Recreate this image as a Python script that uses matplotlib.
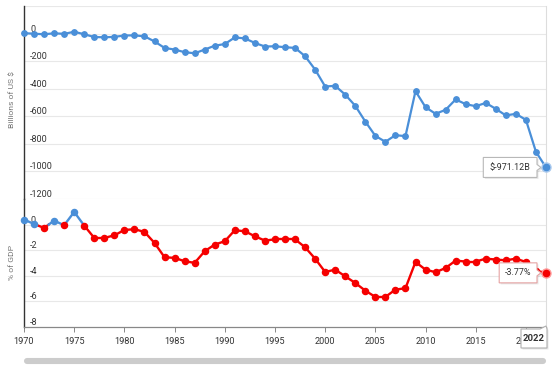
import matplotlib
matplotlib.use("Agg")
import matplotlib.pyplot as plt
import matplotlib.transforms as mtransforms
from matplotlib.patches import Polygon
from matplotlib.lines import Line2D

plt.rcParams['font.family'] = ['Roboto', 'DejaVu Sans']

years = list(range(1970, 2023))
balance_bn = [3, -1, -5, 2, -2, 13, -5, -25, -27, -24,
              -14, -13, -20, -57, -104, -116, -135, -143, -116, -88,
              -76, -28, -35, -68, -94, -92, -99, -104, -164, -261,
              -384, -379, -443, -524, -638, -742, -785, -737, -744, -418,
              -534, -582, -553, -478, -512, -527, -503, -546, -594, -582,
              -626, -858, -971.12]
pct_gdp = [0.39, 0.05, -0.26, 0.31, -0.05, 0.99, -0.08, -1.04, -1.04, -0.84,
           -0.42, -0.36, -0.57, -1.43, -2.55, -2.60, -2.86, -2.99, -2.08, -1.56,
           -1.30, -0.44, -0.52, -0.91, -1.25, -1.15, -1.15, -1.15, -1.77, -2.66,
           -3.70, -3.52, -4.04, -4.56, -5.16, -5.65, -5.65, -5.08, -4.97, -2.92,
           -3.52, -3.72, -3.39, -2.81, -2.89, -2.89, -2.66, -2.73, -2.79, -2.66,
           -2.92, -3.60, -3.77]
top_ticks = [0, -200, -400, -600, -800, -1000, -1200]
bottom_ticks = [0, -2, -4, -6, -8]
x_ticks = list(range(1970, 2021, 5))
last_bn_label = "$-971.12B"
last_pct_label = "-3.77%"
last_year_label = "2022"

BLUE = '#4a8fd8'
RED = '#f50000'
GRID = '#e8e8e8'
TXT = '#333333'

W, H = 552, 376
fig = plt.figure(figsize=(W / 100, H / 100), dpi=100)

def fx(px):
    return px / W

def fy(py):
    return 1 - py / H

ax1 = fig.add_axes([fx(24), fy(199), fx(546) - fx(24), fy(6) - fy(199)])
ax2 = fig.add_axes([fx(24), fy(327), fx(546) - fx(24), fy(199) - fy(327)])

for ax in (ax1, ax2):
    ax.set_xlim(1970, 2022)
    ax.set_facecolor('none')
    for s in ('top', 'bottom'):
        ax.spines[s].set_visible(False)
    ax.spines['left'].set_color('#333333')
    ax.spines['left'].set_linewidth(1.0)
    ax.spines['right'].set_color('#dddddd')
    ax.spines['right'].set_linewidth(0.8)
    ax.set_yticks([])

ax1.set_ylim(-1200, 200)
ax2.set_ylim(-8, 2)

for v in [200] + top_ticks:
    ax1.axhline(v, color=GRID, lw=0.8, zorder=0)
for v in bottom_ticks[:-1]:
    ax2.axhline(v, color=GRID, lw=0.8, zorder=0)

ax2.spines['bottom'].set_visible(True)
ax2.spines['bottom'].set_color('#888888')
ax2.spines['bottom'].set_linewidth(0.9)

ax1.set_xticks([])
ax2.set_xticks(x_ticks)
ax2.set_xticklabels([str(y) for y in x_ticks])
ax2.tick_params(axis='x', length=3.5, width=0.7, color='#888888', pad=3.5,
                labelsize=6.6, labelcolor=TXT)

for v in top_ticks:
    ax1.text(0.0115, v, str(v), transform=ax1.get_yaxis_transform(),
             ha='left', va='bottom', fontsize=6.5, color=TXT)
for v in bottom_ticks:
    ax2.text(0.0115, v, str(v), transform=ax2.get_yaxis_transform(),
             ha='left', va='bottom', fontsize=6.5, color=TXT)

# top series
ax1.plot(years, balance_bn, color=BLUE, lw=1.6, marker='o', ms=3.9,
         clip_on=False, zorder=3)
ax1.plot([years[-1]], [balance_bn[-1]], 'o', color=BLUE, ms=6.5,
         mec='#a9c9ee', mew=1.0, clip_on=False, zorder=4)

# bottom series, coloured by sign
for i in range(len(years) - 1):
    x0, x1 = years[i], years[i + 1]
    y0, y1 = pct_gdp[i], pct_gdp[i + 1]
    if (y0 >= 0) == (y1 >= 0):
        c = BLUE if y0 >= 0 else RED
        ax2.plot([x0, x1], [y0, y1], color=c, lw=1.7, clip_on=False, zorder=3,
                 solid_capstyle='round')
    else:
        xc = x0 + (x1 - x0) * (0 - y0) / (y1 - y0)
        c0 = BLUE if y0 >= 0 else RED
        c1 = BLUE if y1 >= 0 else RED
        ax2.plot([x0, xc], [y0, 0], color=c0, lw=1.7, clip_on=False, zorder=3)
        ax2.plot([xc, x1], [0, y1], color=c1, lw=1.7, clip_on=False, zorder=3)
for x, y in zip(years, pct_gdp):
    ax2.plot([x], [y], 'o', color=BLUE if y >= 0 else RED, ms=4.4,
             clip_on=False, zorder=4)
ax2.plot([years[-1]], [pct_gdp[-1]], 'o', color=RED, ms=6.5,
         mec='#ff9a9a', mew=1.0, clip_on=False, zorder=5)

# axis titles
fig.text(fx(12), fy(100), "Billions of US $", rotation=90, ha='center',
         va='center', fontsize=6.1, color='#777777')
fig.text(fx(12), fy(262), "% of GDP", rotation=90, ha='center',
         va='center', fontsize=6.1, color='#777777')

ID = mtransforms.IdentityTransform()

def tooltip_left(ax, x, y, text, edge, bold=False):
    px, py = ax.transData.transform((x, y))
    right = px - 9
    left = right - (len(text) * 5.3 + 6)
    top = py + 10
    bot = py - 10
    verts = [(left, bot), (right, bot), (right, py - 3), (px - 5, py),
             (right, py + 3), (right, top), (left, top)]
    sh = [(vx + 1.5, vy - 1.5) for vx, vy in verts]
    fig.add_artist(Polygon(sh, closed=True, transform=ID, fc='#00000018',
                           ec='none', zorder=8))
    fig.add_artist(Polygon(verts, closed=True, transform=ID, fc='white',
                           ec=edge, lw=0.8, zorder=9))
    fig.text((left + right) / 2, py, text, transform=ID, ha='center',
             va='center', fontsize=6.5, color=TXT, zorder=10,
             fontweight='bold' if bold else 'normal')

tooltip_left(ax1, years[-1], balance_bn[-1], last_bn_label, '#b8b8b8')
tooltip_left(ax2, years[-1], pct_gdp[-1], last_pct_label, '#e6a3a3')

# x-axis tooltip
px, py = ax2.transData.transform((years[-1], -8))
left, right = px - 25, px + 1
top, bot = py - 2, py - 21
verts = [(left, bot), (right, bot), (right, top), (px, py + 1),
         (px - 6, top), (left, top)]
sh = [(vx + 1.5, vy - 1.5) for vx, vy in verts]
fig.add_artist(Polygon(sh, closed=True, transform=ID, fc='#00000018',
                       ec='none', zorder=8))
fig.add_artist(Polygon(verts, closed=True, transform=ID, fc='white',
                       ec='#b0b0b0', lw=0.8, zorder=9))
fig.text((left + right) / 2, (top + bot) / 2, last_year_label, transform=ID,
         ha='center', va='center', fontsize=6.8, color=TXT,
         fontweight='bold', zorder=10)

# scrollbar
fig.add_artist(Line2D([27, 543], [H - 360.5, H - 360.5], transform=ID,
                      color='#cccccc', lw=4.4, solid_capstyle='round'))

fig.savefig("out.png", dpi=100)
